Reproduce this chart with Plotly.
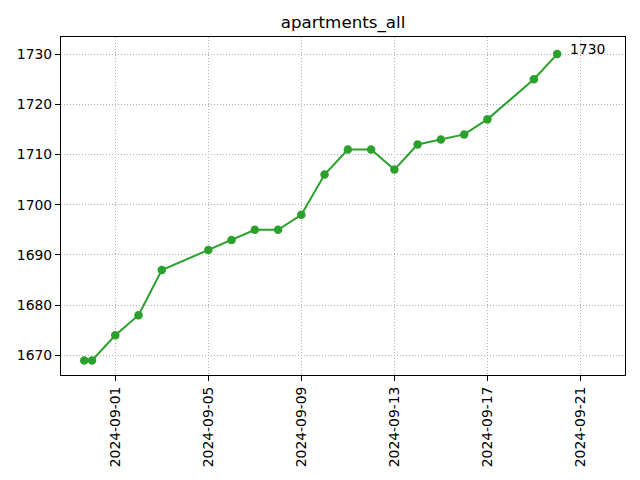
import plotly.graph_objects as go

dates = ["2024-08-30 16:00", "2024-08-31", "2024-09-01", "2024-09-02", "2024-09-03",
         "2024-09-05", "2024-09-06", "2024-09-07", "2024-09-08", "2024-09-09",
         "2024-09-10", "2024-09-11", "2024-09-12", "2024-09-13", "2024-09-14",
         "2024-09-15", "2024-09-16", "2024-09-17", "2024-09-19", "2024-09-20"]
values = [1669, 1669, 1674, 1678, 1687,
          1691, 1693, 1695, 1695, 1698,
          1706, 1711, 1711, 1707, 1712,
          1713, 1714, 1717, 1725, 1730]
title_text = "apartments_all"

green = "#2ca02c"
fig = go.Figure()
fig.add_trace(go.Scatter(x=dates, y=values, mode="lines+markers",
                         line=dict(color=green, width=2),
                         marker=dict(color=green, size=8.5),
                         showlegend=False))
fig.add_annotation(x=dates[-1], y=values[-1], text=str(values[-1]),
                   showarrow=False, xanchor="left", yanchor="middle",
                   xshift=11, yshift=5,
                   font=dict(family="DejaVu Sans", size=13.9, color="black"))

axis_common = dict(showline=True, linecolor="black", linewidth=1, mirror=True,
                   ticks="outside", ticklen=5, tickcolor="black", tickwidth=1,
                   showgrid=True, gridcolor="#b0b0b0", griddash="1px,2px", gridwidth=1,
                   zeroline=False,
                   tickfont=dict(family="DejaVu Sans", size=13.9, color="black"))

fig.update_layout(
    width=640, height=480,
    margin=dict(l=61, r=15, t=37, b=105),
    paper_bgcolor="white", plot_bgcolor="white",
    title=dict(text=title_text, x=0.5, xref="paper", xanchor="center",
               y=1 - 22 / 480, yref="container", yanchor="middle",
               font=dict(family="DejaVu Sans", size=16.7, color="black")),
    xaxis=dict(axis_common, type="date", range=["2024-08-29 16:00", "2024-09-22 22:00"],
               tick0="2024-09-01", dtick=4 * 86400000, tickformat="%Y-%m-%d",
               tickangle=-90),
    yaxis=dict(axis_common, range=[1666.1, 1733.4], dtick=10),
)
fig.write_html("out.html")
